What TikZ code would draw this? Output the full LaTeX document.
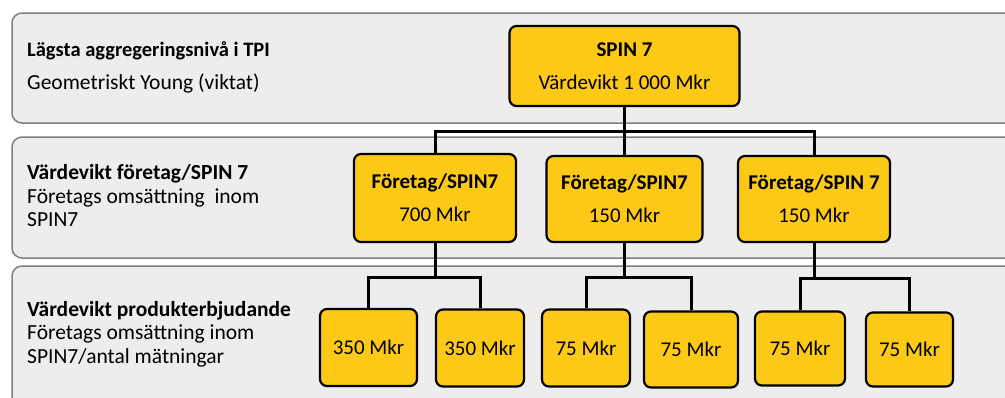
\documentclass[tikz,border=0pt]{standalone}
\usepackage{fontspec}
\setmainfont{Carlito}
\definecolor{panelfill}{RGB}{237,237,237}
\definecolor{panelline}{RGB}{128,128,128}
\definecolor{boxfill}{RGB}{252,202,22}
\begin{document}
\begin{tikzpicture}[x=1pt,y=-1pt,
  panel/.style={draw=panelline, fill=panelfill, line width=1.5pt, rounded corners=10pt},
  box/.style={draw=black, fill=boxfill, line width=2.2pt, rounded corners=7pt,
    align=center, inner sep=0pt, font=\fontsize{21}{33}\selectfont},
  link/.style={draw=black, line width=3pt},
  lbl/.style={anchor=west, inner sep=0pt, align=left, font=\fontsize{21.5}{23.5}\selectfont}]
\useasboundingbox (0,0) rectangle (1005,397);
\clip (0,0) rectangle (1005,397);

% level bands
\draw[panel] (12,13) rectangle (1030,123);
\draw[panel] (12,137) rectangle (1030,258);
\draw[panel] (12,266) rectangle (1030,420);

% band captions
\node[lbl, font=\fontsize{20.5}{23.5}\selectfont] (cap1a) at (27,51) {\textbf{Lägsta aggregeringsnivå i TPI}};
\node[lbl] (cap1b) at (27,83) {Geometriskt Young (viktat)};
\node[lbl] (cap2) at (27,196) {\textbf{Värdevikt företag/SPIN 7}\\Företags omsättning\ \ inom\\SPIN7};
\node[lbl] (cap3) at (27,334) {\textbf{Värdevikt produkterbjudande}\\Företags omsättning inom\\SPIN7/antal mätningar};

% top node
\node[box, minimum width=230pt, minimum height=80pt] (top) at (624.5,66) {\textbf{SPIN 7}\\Värdevikt 1 000 Mkr};

% company nodes
\node[box, minimum width=162pt, minimum height=88pt] (c1) at (435,198) {\textbf{Företag/SPIN7}\\700 Mkr};
\node[box, minimum width=156pt, minimum height=86pt] (c2) at (624.5,199) {\textbf{Företag/SPIN7}\\150 Mkr};
\node[box, minimum width=152pt, minimum height=86pt] (c3) at (814,199) {\textbf{Företag/SPIN 7}\\150 Mkr};

% product nodes
\node[box, minimum width=97pt, minimum height=77pt] (p1) at (368.5,347.5) {350 Mkr};
\node[box, minimum width=88pt, minimum height=77pt] (p2) at (480,348) {350 Mkr};
\node[box, minimum width=88pt, minimum height=77pt] (p3) at (586,348) {75 Mkr};
\node[box, minimum width=94pt, minimum height=76pt] (p4) at (691,349.5) {75 Mkr};
\node[box, minimum width=90pt, minimum height=74pt] (p5) at (800,348.5) {75 Mkr};
\node[box, minimum width=87pt, minimum height=74pt] (p6) at (909.5,349.5) {75 Mkr};

% junctions
\coordinate (j0) at (624.5,131);
\coordinate (j1) at (435,277);
\coordinate (j2) at (624.5,277);
\coordinate (j3) at (814,278);

% connectors
\draw[link] (top.south) -- (c2.north);
\draw[link] (c1.north) |- (j0) -| (c3.north);
\draw[link] (c1.south) -- (j1);
\draw[link] (p1.north) |- (j1) -| (p2.north);
\draw[link] (c2.south) -- (j2);
\draw[link] (p3.north) |- (j2) -| (p4.north);
\draw[link] (c3.south) -- (j3);
\draw[link] (p5.north) |- (j3) -| (p6.north);
\end{tikzpicture}
\end{document}
